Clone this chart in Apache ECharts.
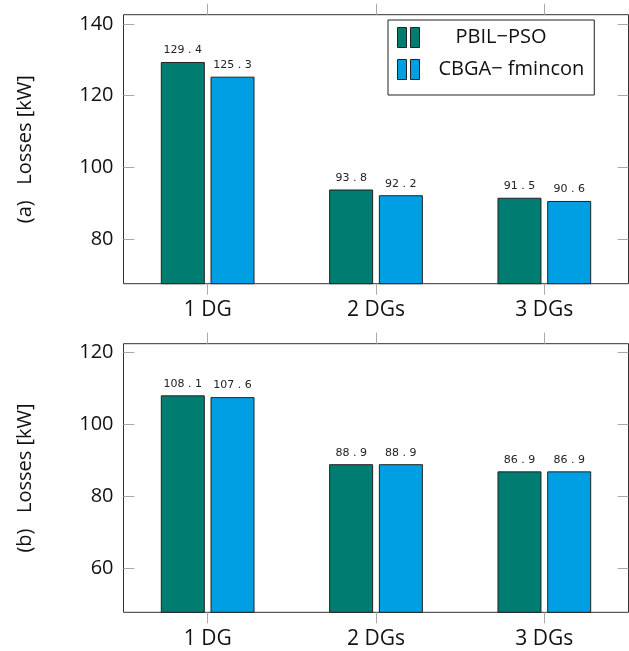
<!DOCTYPE html>
<html>
<head>
<meta charset="utf-8">
<script src="https://cdn.jsdelivr.net/npm/echarts@6/dist/echarts.min.js"></script>
<style>
  html, body { margin: 0; padding: 0; background: #fff; }
  #chart { width: 629px; height: 651px; }
</style>
</head>
<body>
<div id="chart"></div>
<script>
// data
var categories = ['1 DG', '2 DGs', '3 DGs'];
var seriesNames = ['PBIL\u2212PSO', 'CBGA\u2212 fmincon'];
var pbilA = [129.4, 93.8, 91.5];
var cbgaA = [125.3, 92.2, 90.6];
var pbilB = [108.1, 88.9, 86.9];
var cbgaB = [107.6, 88.9, 86.9];
var ticksA = [80, 100, 120, 140];
var ticksB = [60, 80, 100, 120];

var chart = echarts.init(document.getElementById('chart'));
var font = 'Open Sans';
var green = '#007C70';
var blue = '#009FE3';

function xAxes(gridIndex) {
    var base = {
        type: 'category',
        gridIndex: gridIndex,
        data: categories,
        axisLine: { show: false },
        axisTick: { show: true, inside: false, length: 11, alignWithLabel: true, lineStyle: { color: '#aaa' } },
        splitLine: { show: false }
    };
    var bottom = Object.assign({}, base, {
        position: 'bottom',
        axisLabel: { fontFamily: font, fontSize: 21, color: '#111', margin: 16 }
    });
    var top = Object.assign({}, base, {
        position: 'top',
        axisLabel: { show: false }
    });
    return [bottom, top];
}

function yAxes(gridIndex, min, max, ticks, name) {
    var base = {
        type: 'value',
        gridIndex: gridIndex,
        min: min,
        max: max,
        axisLine: { show: false },
        splitLine: { show: false },
        axisTick: { show: true, inside: true, length: 11, customValues: ticks, lineStyle: { color: '#aaa' } }
    };
    var left = Object.assign({}, base, {
        position: 'left',
        name: name,
        nameLocation: 'middle',
        nameRotate: 90,
        nameGap: 88,
        nameTextStyle: { fontFamily: font, fontSize: 20, color: '#111' },
        axisLabel: { fontFamily: font, fontSize: 20, color: '#111', margin: 10, customValues: ticks }
    });
    var right = Object.assign({}, base, {
        position: 'right',
        axisLabel: { show: false }
    });
    return [left, right];
}

function barSeries(name, color, data, xi, yi) {
    return {
        name: name,
        type: 'bar',
        xAxisIndex: xi,
        yAxisIndex: yi,
        data: data,
        barWidth: 44,
        barGap: '13%',
        itemStyle: { color: color, borderColor: '#222', borderWidth: 1 },
        label: {
            show: true,
            position: 'top',
            distance: 6,
            fontFamily: 'DejaVu Sans',
            fontSize: 11,
            color: '#222',
            formatter: function (p) { return String(p.value).replace('.', ' . '); }
        }
    };
}

var legendIcon = 'path://M0,0h9v20h-9z M13,0h9v20h-9z';

var option = {
    animation: false,
    backgroundColor: '#fff',
    grid: [
        { left: 123.5, top: 14.7, width: 505, height: 269, show: true, borderColor: '#333', borderWidth: 1 },
        { left: 123.5, top: 343.7, width: 505, height: 268.6, show: true, borderColor: '#333', borderWidth: 1 }
    ],
    legend: {
        orient: 'vertical',
        left: 388,
        top: 20,
        width: 229,
        padding: [7, 10, 15, 9],
        itemGap: 11,
        itemWidth: 22,
        itemHeight: 20,
        borderColor: '#222',
        borderWidth: 1,
        backgroundColor: '#fff',
        icon: legendIcon,
        data: [
            { name: seriesNames[0], itemStyle: { color: green, borderColor: '#222', borderWidth: 1 } },
            { name: seriesNames[1], itemStyle: { color: blue, borderColor: '#222', borderWidth: 1 } }
        ],
        formatter: function (name) {
            return name === seriesNames[0] ? '{p|' + name + '}' : '{c|' + name + '}';
        },
        textStyle: {
            fontFamily: font,
            fontSize: 20,
            color: '#111',
            rich: {
                p: { fontFamily: font, fontSize: 20, color: '#111', padding: [0, 0, 0, 31] },
                c: { fontFamily: font, fontSize: 20, color: '#111', padding: [0, 0, 0, 14] }
            }
        }
    },
    xAxis: xAxes(0).concat(xAxes(1)),
    yAxis: yAxes(0, 67.5, 142.6, ticksA, '(a)   Losses [kW]').concat(yAxes(1, 47.6, 122.5, ticksB, '(b)   Losses [kW]')),
    series: [
        barSeries(seriesNames[0], green, pbilA, 0, 0),
        barSeries(seriesNames[1], blue, cbgaA, 0, 0),
        barSeries(seriesNames[0], green, pbilB, 2, 2),
        barSeries(seriesNames[1], blue, cbgaB, 2, 2)
    ]
};

chart.setOption(option);
</script>
</body>
</html>
